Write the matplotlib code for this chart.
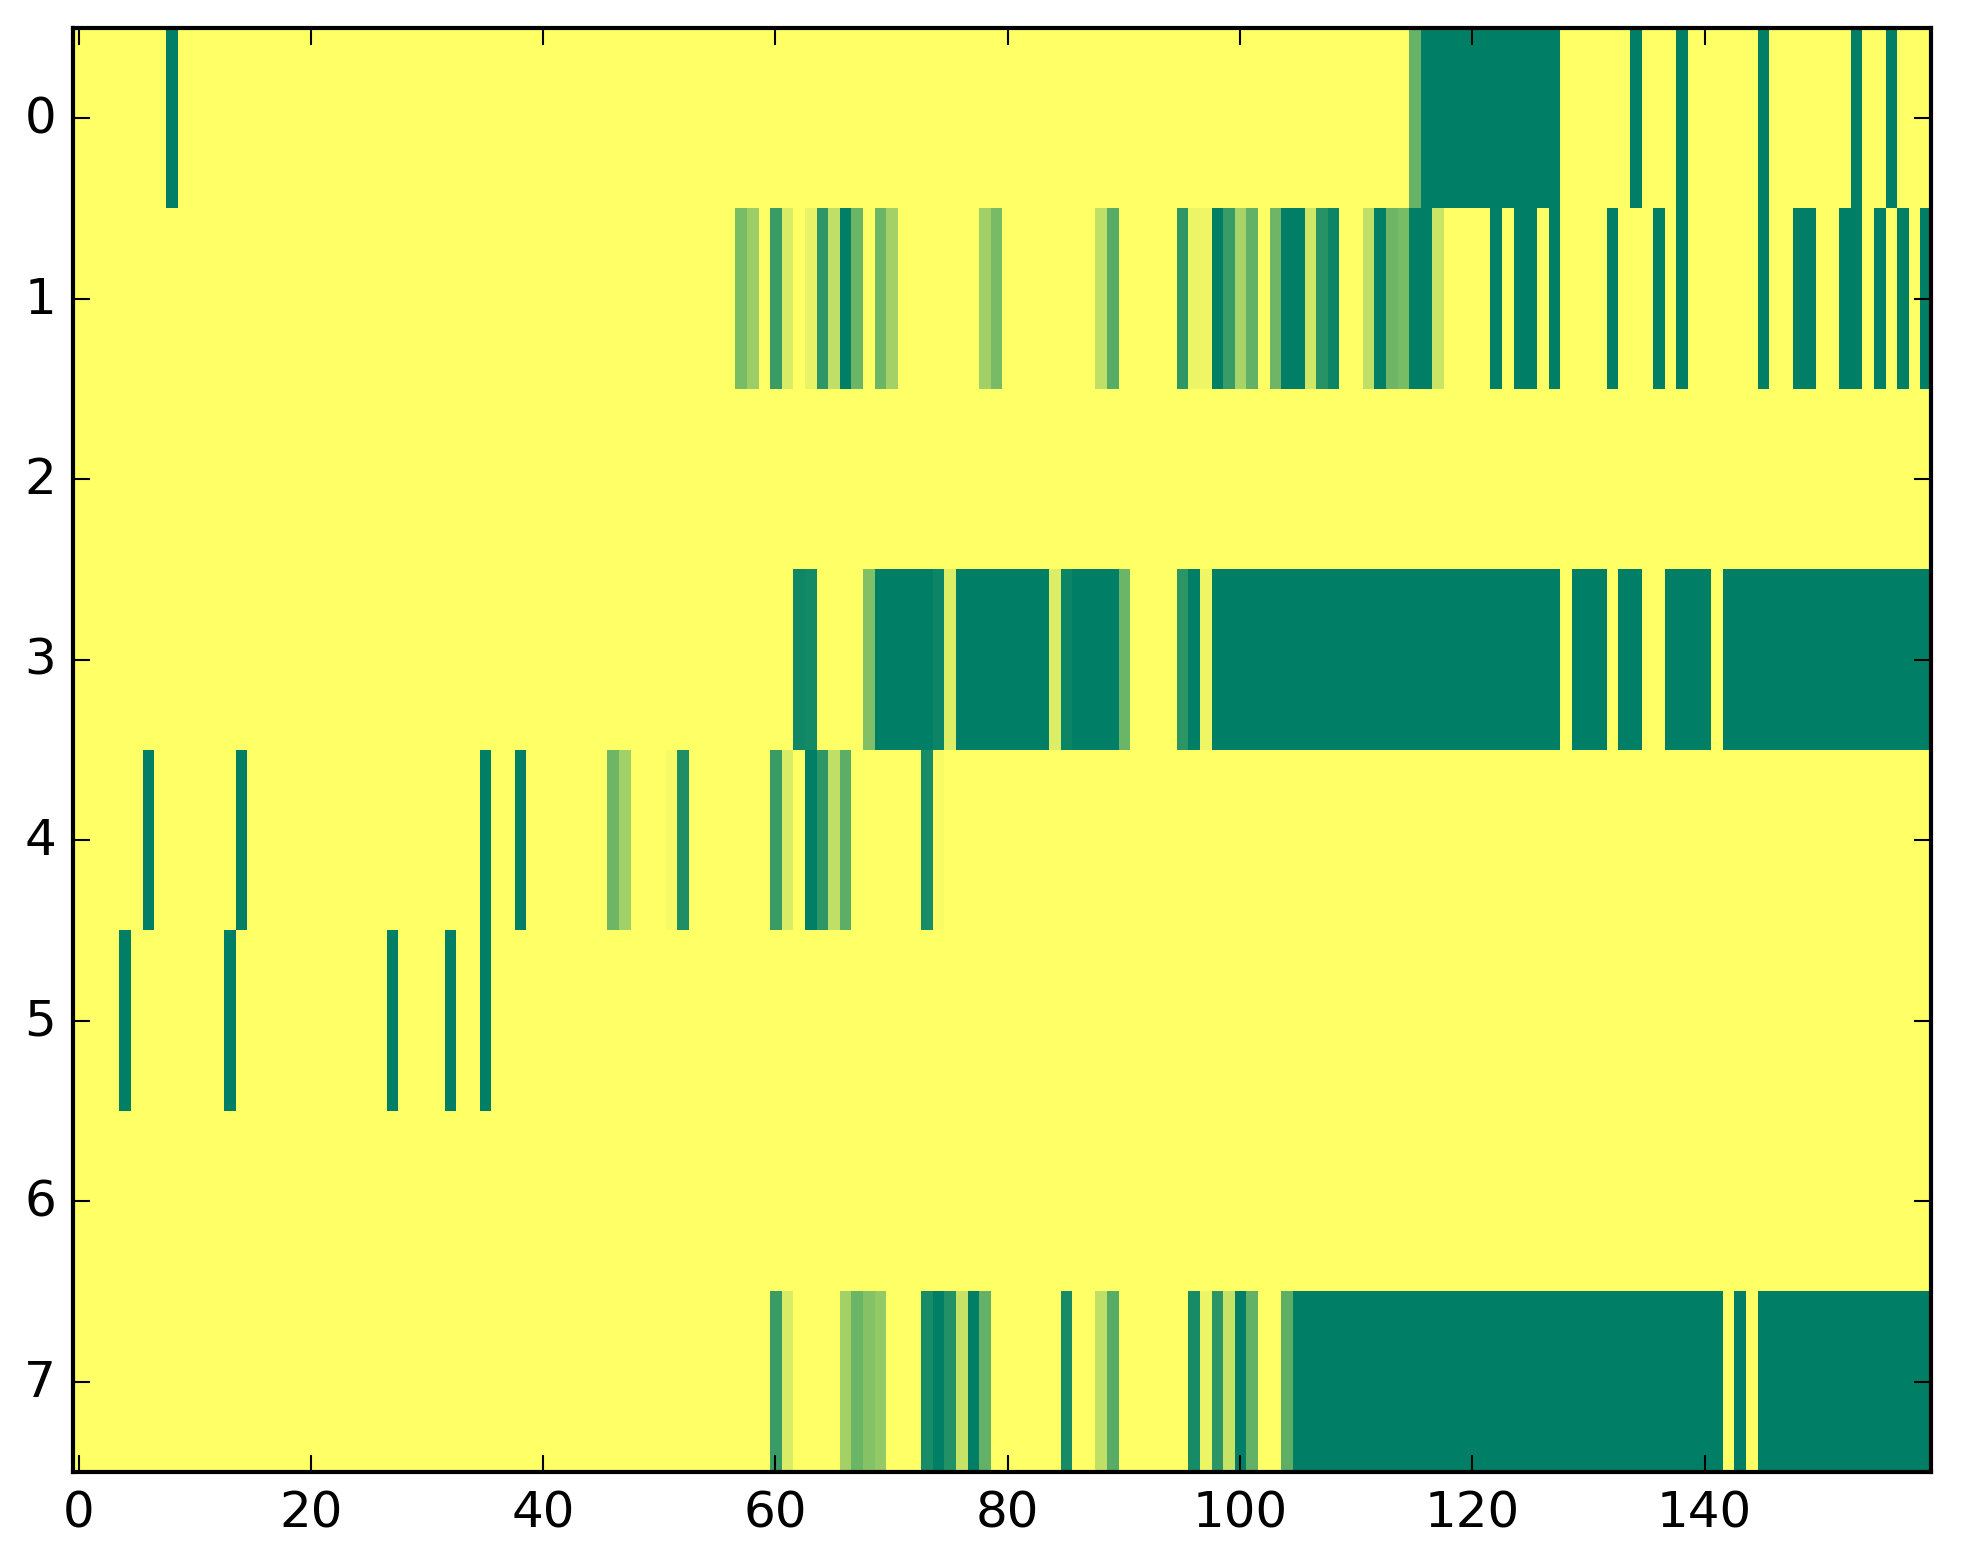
import numpy as np
import matplotlib
matplotlib.use('Agg')
from matplotlib import pyplot as plt

n_rows = 8
n_cols = 160

# columns at full value (1.0) per row
row0_full = [8] + list(range(116, 128)) + [134, 138, 145, 153, 156]
row1_full = [66, 98, 104, 105, 112, 115, 116, 122, 124, 125, 127, 132, 136,
             138, 145, 148, 149, 152, 153, 155, 157, 159]
row2_full = []
row3_full = (list(range(69, 74)) + list(range(76, 84)) + [86, 87, 88, 89, 96]
             + list(range(98, 128)) + [129, 130, 131, 133, 134]
             + [137, 138, 139, 140] + list(range(142, 160)))
row4_full = [6, 14, 35, 38, 63]
row5_full = [4, 13, 27, 32, 35]
row6_full = []
row7_full = [74, 77, 100] + list(range(105, 142)) + [143] + list(range(145, 160))

# partial values {column: value}
row0_part = {115: 0.6}
row1_part = {57: 0.52, 58: 0.39, 60: 0.77, 61: 0.15, 63: 0.09, 64: 0.82,
             65: 0.25, 67: 0.58, 69: 0.58, 70: 0.36, 78: 0.37, 79: 0.53,
             88: 0.25, 89: 0.65, 95: 0.82, 96: 0.08, 97: 0.07, 99: 0.77,
             100: 0.34, 101: 0.61, 103: 0.57, 106: 0.19, 107: 0.85,
             108: 0.95, 111: 0.25, 113: 0.57, 114: 0.52, 117: 0.21}
row2_part = {}
row3_part = {62: 0.94, 63: 0.92, 68: 0.49, 74: 0.95, 75: 0.14, 84: 0.14,
             85: 0.95, 90: 0.58, 95: 0.83, 97: 0.07}
row4_part = {46: 0.57, 47: 0.37, 51: 0.04, 52: 0.88, 60: 0.77, 61: 0.15,
             64: 0.82, 65: 0.25, 66: 0.64, 73: 0.9, 74: 0.03}
row5_part = {}
row6_part = {}
row7_part = {60: 0.77, 61: 0.15, 66: 0.36, 67: 0.58, 68: 0.48, 69: 0.42,
             73: 0.9, 75: 0.86, 76: 0.22, 78: 0.61, 85: 0.91, 88: 0.25,
             89: 0.65, 96: 0.91, 97: 0.08, 98: 0.83, 99: 0.22, 101: 0.61,
             104: 0.63}

full = [row0_full, row1_full, row2_full, row3_full,
        row4_full, row5_full, row6_full, row7_full]
part = [row0_part, row1_part, row2_part, row3_part,
        row4_part, row5_part, row6_part, row7_part]

data = np.zeros((n_rows, n_cols))
for r in range(n_rows):
    data[r, full[r]] = 1.0
    for c, v in part[r].items():
        data[r, c] = v

plt.style.use('classic')
fig = plt.figure(figsize=(1963/300., 1564/300.), dpi=300)
ax = fig.add_axes([72.7/1963, 91./1564, (1931-72.7)/1963, (1473-29.)/1564])
ax.imshow(data, cmap='summer_r', vmin=0, vmax=1, aspect='auto',
          interpolation='nearest')
fig.savefig('out.png', dpi=300)
